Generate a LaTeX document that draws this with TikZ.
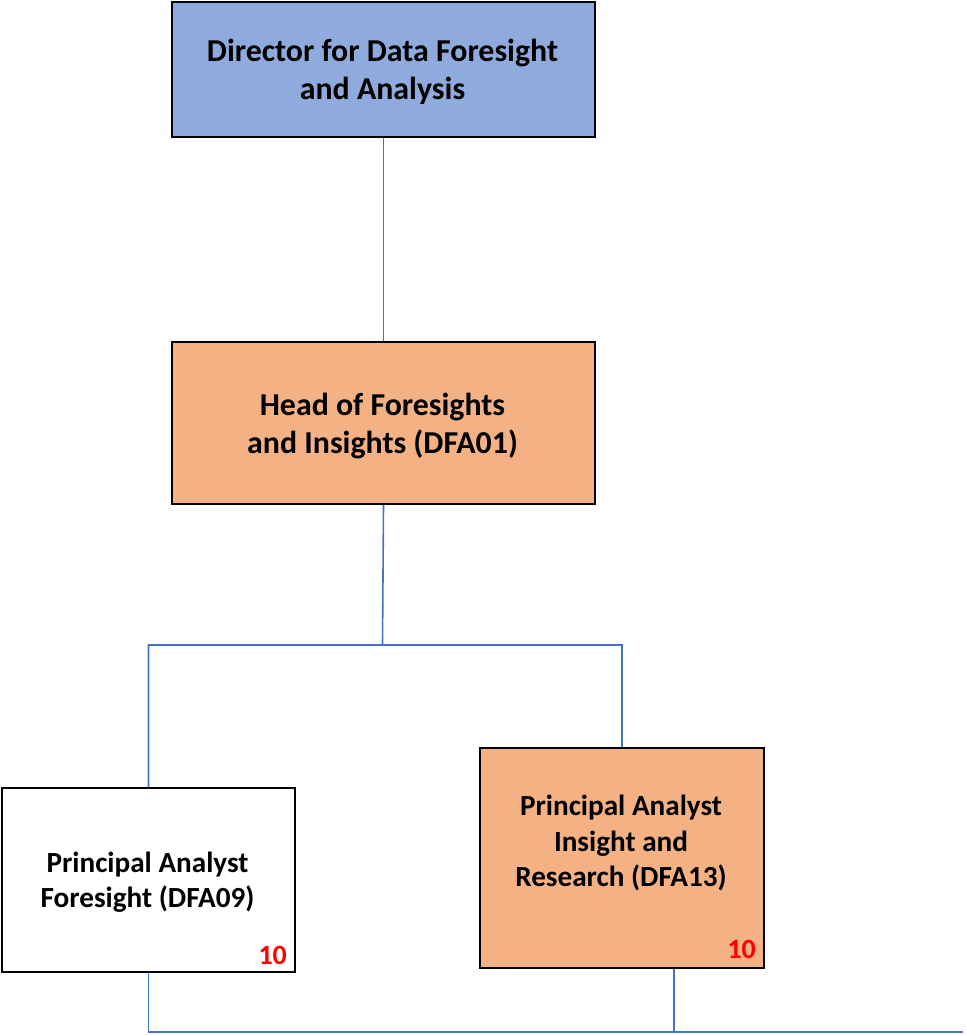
\documentclass[tikz,border=0pt]{standalone}
\usepackage{fontspec}
\setmainfont{Carlito}
\definecolor{dirblue}{HTML}{8FAADC}
\definecolor{headorange}{HTML}{F4B183}
\definecolor{connblue}{HTML}{4472C4}
\tikzset{
  box/.style={draw=black, line width=2bp, rectangle, inner sep=0pt, anchor=north west},
  bigtext/.style={align=center, font=\fontsize{32}{38}\selectfont\bfseries, inner sep=0pt},
  smalltext/.style={align=center, font=\fontsize{29.3}{35.5}\selectfont\bfseries, inner sep=0pt},
  count/.style={text=red, font=\fontsize{28}{32}\selectfont\bfseries, inner sep=0pt, anchor=base east},
  conn/.style={draw=connblue, line width=1.6bp},
}
\begin{document}
\begin{tikzpicture}[x=1bp,y=-1bp]
\useasboundingbox (0,0) rectangle (966,1035);
% boxes
\node[box, fill=dirblue, minimum width=423bp, minimum height=135bp] (dir) at (171,1) {};
\node[box, fill=headorange, minimum width=423bp, minimum height=162bp] (head) at (171,341) {};
\node[box, fill=white, minimum width=293bp, minimum height=184bp] (dfa09) at (1,787) {};
\node[box, fill=headorange, minimum width=284bp, minimum height=220bp] (dfa13) at (479,747) {};
% texts
\node[bigtext] (dirtext) at (382.5,72) {Director for Data Foresight\\and Analysis};
\node[bigtext] (headtext) at (382.5,426) {Head of Foresights\\and Insights (DFA01)};
\node[smalltext] (dfa09text) at (147.5,882) {Principal Analyst\\Foresight (DFA09)};
\node[smalltext] (dfa13text) at (621,843) {Principal Analyst\\Insight and\\Research (DFA13)};
\node[count] (n09) at (287,964) {10};
\node[count] (n13) at (756,958) {10};
% connectors
\coordinate (junc) at (382.5,645);
\coordinate (botend) at (963,1032);
\draw[conn] (dir.south) -- (head.north);
\draw[conn] (head.south) -- (junc) -| (dfa09.north);
\draw[conn] (junc) -| (dfa13.north);
\draw[conn] (dfa09.south) |- (botend);
\draw[conn] (dfa13.south -| 674,0) -- (674,1032);
\end{tikzpicture}
\end{document}
